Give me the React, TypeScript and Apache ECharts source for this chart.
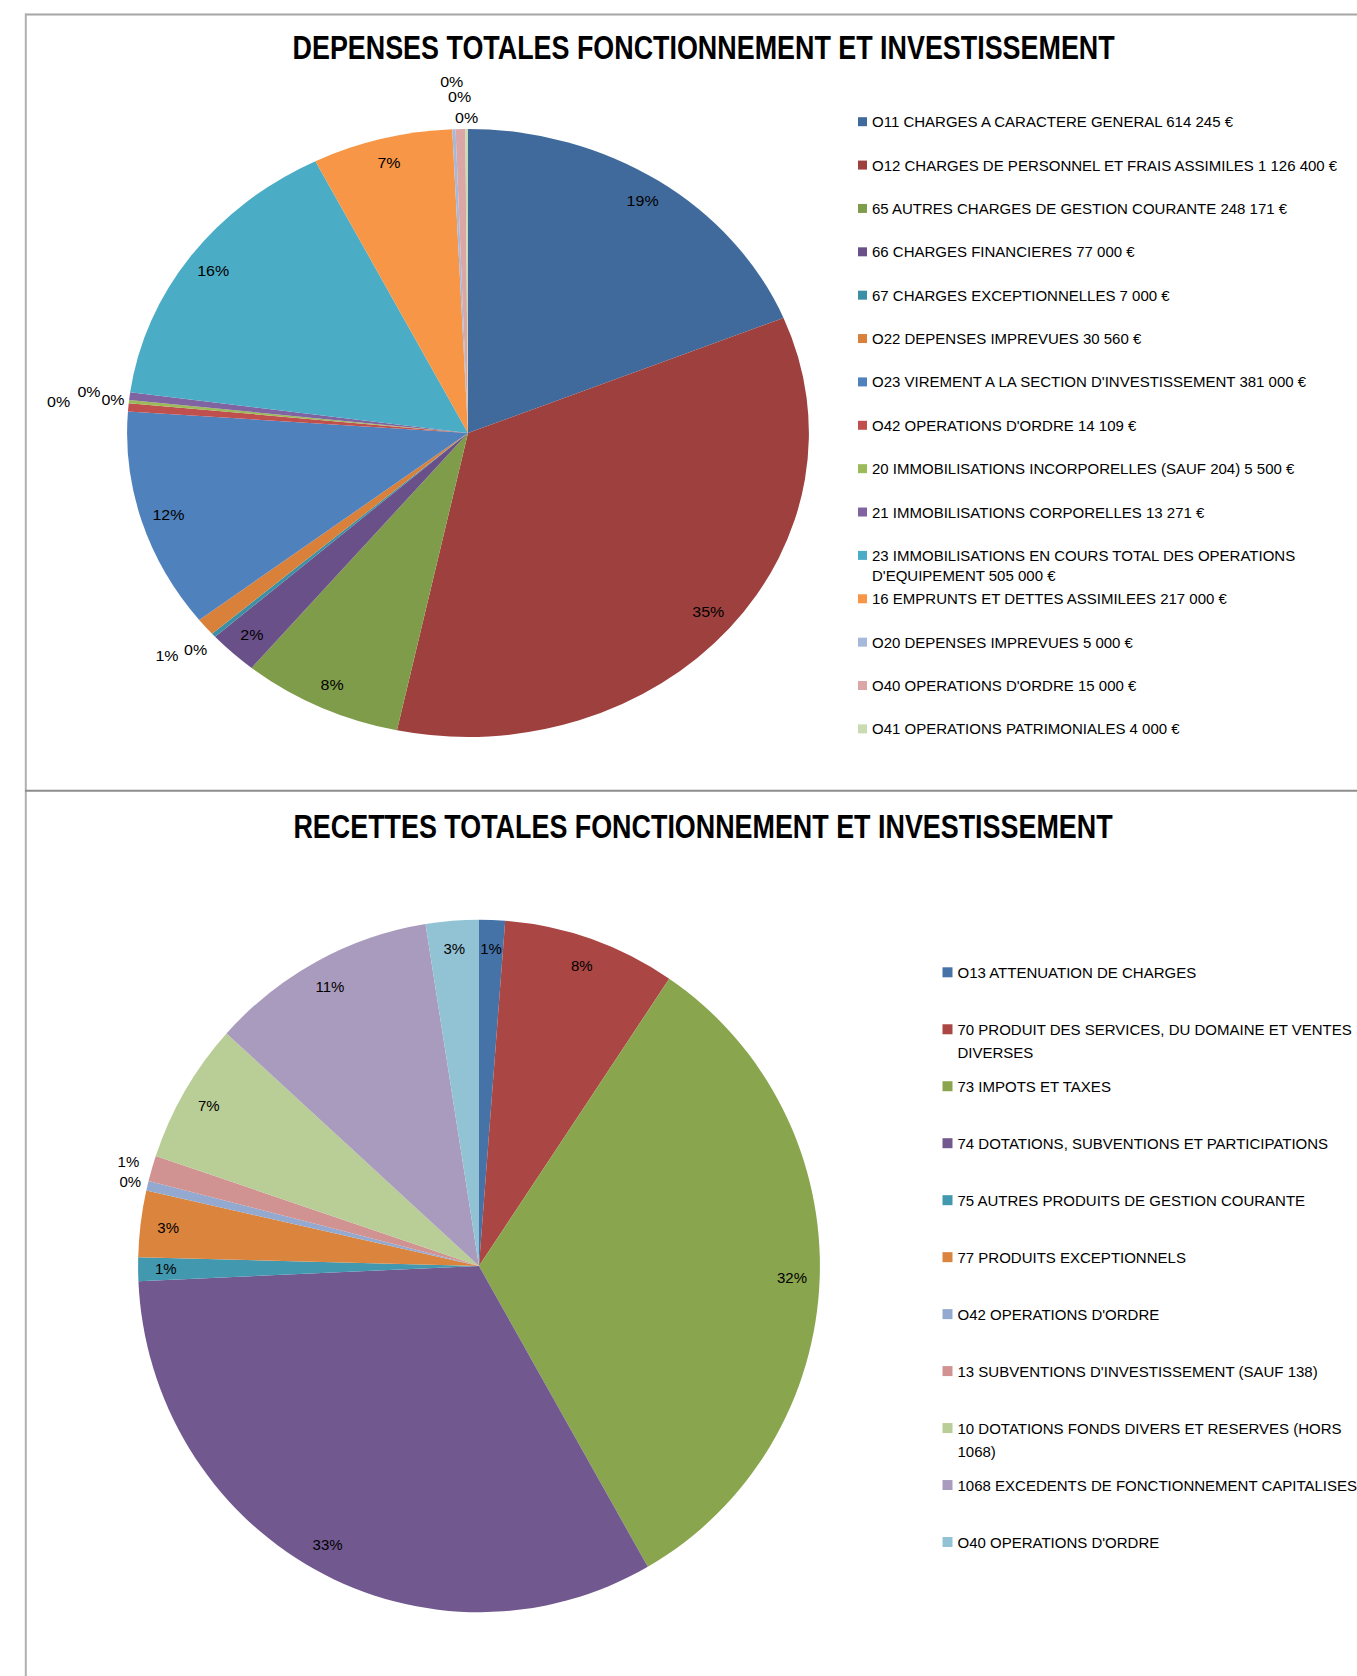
import React, { useEffect, useRef } from "react";
import * as echarts from "echarts";

const FONT = "'Liberation Sans', Arial, sans-serif";

const titleDep = "DEPENSES TOTALES FONCTIONNEMENT ET INVESTISSEMENT";
const titleRec = "RECETTES TOTALES FONCTIONNEMENT ET INVESTISSEMENT";

const depNames = [
  "O11 CHARGES A CARACTERE GENERAL 614 245 €",
  "O12 CHARGES DE PERSONNEL ET FRAIS ASSIMILES 1 126 400 €",
  "65 AUTRES CHARGES DE GESTION COURANTE 248 171 €",
  "66 CHARGES FINANCIERES 77 000 €",
  "67 CHARGES EXCEPTIONNELLES 7 000 €",
  "O22 DEPENSES IMPREVUES 30 560 €",
  "O23 VIREMENT A LA SECTION D'INVESTISSEMENT 381 000 €",
  "O42 OPERATIONS D'ORDRE 14 109 €",
  "20 IMMOBILISATIONS INCORPORELLES (SAUF 204) 5 500 €",
  "21 IMMOBILISATIONS CORPORELLES 13 271 €",
  "23 IMMOBILISATIONS EN COURS TOTAL DES OPERATIONS\nD'EQUIPEMENT 505 000 €",
  "16 EMPRUNTS ET DETTES ASSIMILEES 217 000 €",
  "O20 DEPENSES IMPREVUES 5 000 €",
  "O40 OPERATIONS D'ORDRE 15 000 €",
  "O41 OPERATIONS PATRIMONIALES 4 000 €",
];
const depValues = [614245, 1126400, 248171, 77000, 7000, 30560, 381000, 14109, 5500, 13271, 505000, 217000, 5000, 15000, 4000];
const depColors = [
  "#406A9B", "#9E413E", "#7F9C4A", "#6A5089", "#3C90A6", "#D9803A", "#4F81BD", "#C0504D",
  "#9BBB59", "#8064A2", "#4BACC6", "#F79646", "#A7B9DA", "#DAA7A6", "#C9DBB1",
];
// slices whose percentage label sits outside the pie -> leader length (style only)
const depOutsideLen: Record<number, number> = { 4: 24, 5: 50, 7: 70, 8: 16, 9: 41, 12: 53, 13: 36, 14: 12 };

const recNames = [
  "O13 ATTENUATION DE CHARGES",
  "70 PRODUIT DES SERVICES, DU DOMAINE ET VENTES\nDIVERSES",
  "73 IMPOTS ET TAXES",
  "74 DOTATIONS, SUBVENTIONS ET PARTICIPATIONS",
  "75 AUTRES PRODUITS DE GESTION COURANTE",
  "77 PRODUITS EXCEPTIONNELS",
  "O42 OPERATIONS D'ORDRE",
  "13 SUBVENTIONS D'INVESTISSEMENT (SAUF 138)",
  "10 DOTATIONS FONDS DIVERS ET RESERVES (HORS\n1068)",
  "1068 EXCEDENTS DE FONCTIONNEMENT CAPITALISES",
  "O40 OPERATIONS D'ORDRE",
];
const recValues = [40000, 268000, 1057000, 1064000, 36000, 101000, 15000, 39000, 215000, 352000, 82000];
const recColors = [
  "#4572A7", "#AA4643", "#89A54E", "#71588F", "#4198AF", "#DB843D",
  "#93A9CF", "#D19392", "#B9CD96", "#A99BBD", "#92C3D4",
];
const recOutsideLen: Record<number, number> = { 6: 17.5, 7: 24.5 };

type PieProps = {
  names: string[];
  values: number[];
  colors: string[];
  outside: Record<number, number>;
  cx: number;
  cy: number;
  R: number;
  sy: number;
  W: number;
  H: number;
  fontSize: number;
};

function PieLayer(p: PieProps) {
  const ref = useRef<HTMLDivElement>(null);
  useEffect(() => {
    const chart = echarts.init(ref.current!, null, { renderer: "svg" });
    const sectors = p.values.map((v, i) => ({
      value: v,
      name: p.names[i],
      itemStyle: { color: p.colors[i] },
    }));
    const halfLabel = ((0.556 + 0.889) * p.fontSize) / 2;
    const labelled = p.values.map((v, i) => {
      const out = p.outside[i];
      return out !== undefined
        ? { value: v, name: p.names[i], label: { position: "outside" }, labelLine: { length: out } }
        : { value: v, name: p.names[i], label: { position: "inside" } };
    });
    chart.setOption({
      animation: false,
      series: [
        {
          type: "pie",
          center: ["50%", "50%"],
          radius: [0, p.R],
          startAngle: 90,
          clockwise: true,
          silent: true,
          data: sectors,
          itemStyle: { borderWidth: 0 },
          label: { show: false },
          labelLine: { show: false },
          emphasis: { disabled: true },
        },
        {
          type: "pie",
          center: ["50%", "50%"],
          radius: [p.R * 0.82, p.R],
          startAngle: 90,
          clockwise: true,
          silent: true,
          percentPrecision: 0,
          avoidLabelOverlap: false,
          labelLayout: { hideOverlap: false },
          data: labelled,
          itemStyle: { color: "rgba(0,0,0,0)", borderWidth: 0 },
          label: {
            show: true,
            formatter: "{d}%",
            color: "#000",
            fontSize: p.fontSize,
            fontFamily: FONT,
            distanceToLabelLine: -halfLabel,
          },
          labelLine: { show: false, length: 10, length2: 0 },
          emphasis: { disabled: true },
        },
      ],
    });
    return () => chart.dispose();
  }, []);
  return (
    <div
      ref={ref}
      style={{
        position: "absolute",
        left: p.cx - p.W / 2,
        top: p.cy - p.H / 2,
        width: p.W,
        height: p.H,
        transform: `scaleY(${p.sy})`,
        transformOrigin: "50% 50%",
      }}
    />
  );
}

function legendOf(
  names: string[],
  left: number,
  top: number,
  size: number,
  fontSize: number,
  lineHeight: number,
  gap: number,
  wrapped: boolean
) {
  // wrapped entries: the square icon is kept level with the first text line
  const h = wrapped ? size + lineHeight : size;
  return {
    orient: "vertical",
    left,
    top,
    padding: 0,
    icon: wrapped ? `path://M0,0L${size},0L${size},${size}L0,${size}Z M${size},${h}` : "rect",
    itemWidth: size,
    itemHeight: h,
    itemGap: gap,
    selectedMode: false,
    data: names,
    textStyle: {
      fontSize,
      fontFamily: FONT,
      color: "#000",
      lineHeight,
    },
  };
}

function hiddenSeries(names: string[], values: number[], colors: string[]) {
  return {
    type: "pie",
    center: [0, 0],
    radius: [0, 0],
    silent: true,
    label: { show: false },
    labelLine: { show: false },
    itemStyle: { borderWidth: 0 },
    data: values.map((v, i) => ({ value: v, name: names[i], itemStyle: { color: colors[i] } })),
  };
}

function MainLayer() {
  const ref = useRef<HTMLDivElement>(null);
  useEffect(() => {
    const chart = echarts.init(ref.current!, null, { renderer: "svg" });
    const p1 = 43.37, y1 = 121.7, lh1 = 20;
    const p2 = 56.97, y2 = 972.3, lh2 = 23.5;
    chart.setOption({
      animation: false,
      graphic: [
        { type: "line", shape: { x1: 25, y1: 14.5, x2: 1357, y2: 14.5 }, style: { stroke: "#a6a6a6", lineWidth: 2 } },
        { type: "line", shape: { x1: 25.8, y1: 13.5, x2: 25.8, y2: 1676 }, style: { stroke: "#b0b0b0", lineWidth: 2 } },
        { type: "line", shape: { x1: 25, y1: 790.8, x2: 1357, y2: 790.8 }, style: { stroke: "#8c8c8c", lineWidth: 2 } },
        {
          type: "text",
          x: 703.6,
          y: 47,
          scaleX: 0.815,
          style: { text: titleDep, fontSize: 33, fontWeight: "bold", fontFamily: FONT, fill: "#000", align: "center", verticalAlign: "middle" },
        },
        {
          type: "text",
          x: 703,
          y: 826,
          scaleX: 0.815,
          style: { text: titleRec, fontSize: 33, fontWeight: "bold", fontFamily: FONT, fill: "#000", align: "center", verticalAlign: "middle" },
        },
      ],
      legend: [
        legendOf(depNames.slice(0, 10), 858, y1 - lh1 / 2, 9, 15, lh1, p1 - lh1, false),
        legendOf([depNames[10]], 858, y1 + 10 * p1 - lh1 / 2, 9, 15, lh1, p1 - lh1, true),
        legendOf(depNames.slice(11), 858, y1 + 11 * p1 - lh1 / 2, 9, 15, lh1, p1 - lh1, false),
        legendOf([recNames[0]], 942.5, y2 - lh2 / 2, 10, 15, lh2, p2 - lh2, false),
        legendOf([recNames[1]], 942.5, y2 + p2 - lh2 / 2, 10, 15, lh2, p2 - lh2, true),
        legendOf(recNames.slice(2, 8), 942.5, y2 + 2 * p2 - lh2 / 2, 10, 15, lh2, p2 - lh2, false),
        legendOf([recNames[8]], 942.5, y2 + 8 * p2 - lh2 / 2, 10, 15, lh2, p2 - lh2, true),
        legendOf(recNames.slice(9), 942.5, y2 + 9 * p2 - lh2 / 2, 10, 15, lh2, p2 - lh2, false),
      ],
      series: [hiddenSeries(depNames, depValues, depColors), hiddenSeries(recNames, recValues, recColors)],
    });
    return () => chart.dispose();
  }, []);
  return <div ref={ref} style={{ position: "absolute", left: 0, top: 0, width: 1357, height: 1676 }} />;
}

export default function App() {
  return (
    <div
      style={{
        position: "absolute",
        left: 0,
        top: 0,
        width: 1357,
        height: 1676,
        overflow: "hidden",
        background: "#fff",
      }}
    >
      <MainLayer />
      <PieLayer
        names={depNames}
        values={depValues}
        colors={depColors}
        outside={depOutsideLen}
        cx={468}
        cy={433.3}
        R={340.9}
        sy={304 / 340.9}
        W={960}
        H={900}
        fontSize={16}
      />
      <PieLayer
        names={recNames}
        values={recValues}
        colors={recColors}
        outside={recOutsideLen}
        cx={478.7}
        cy={1266.2}
        R={340.9}
        sy={346.2 / 340.9}
        W={960}
        H={760}
        fontSize={15}
      />
    </div>
  );
}
